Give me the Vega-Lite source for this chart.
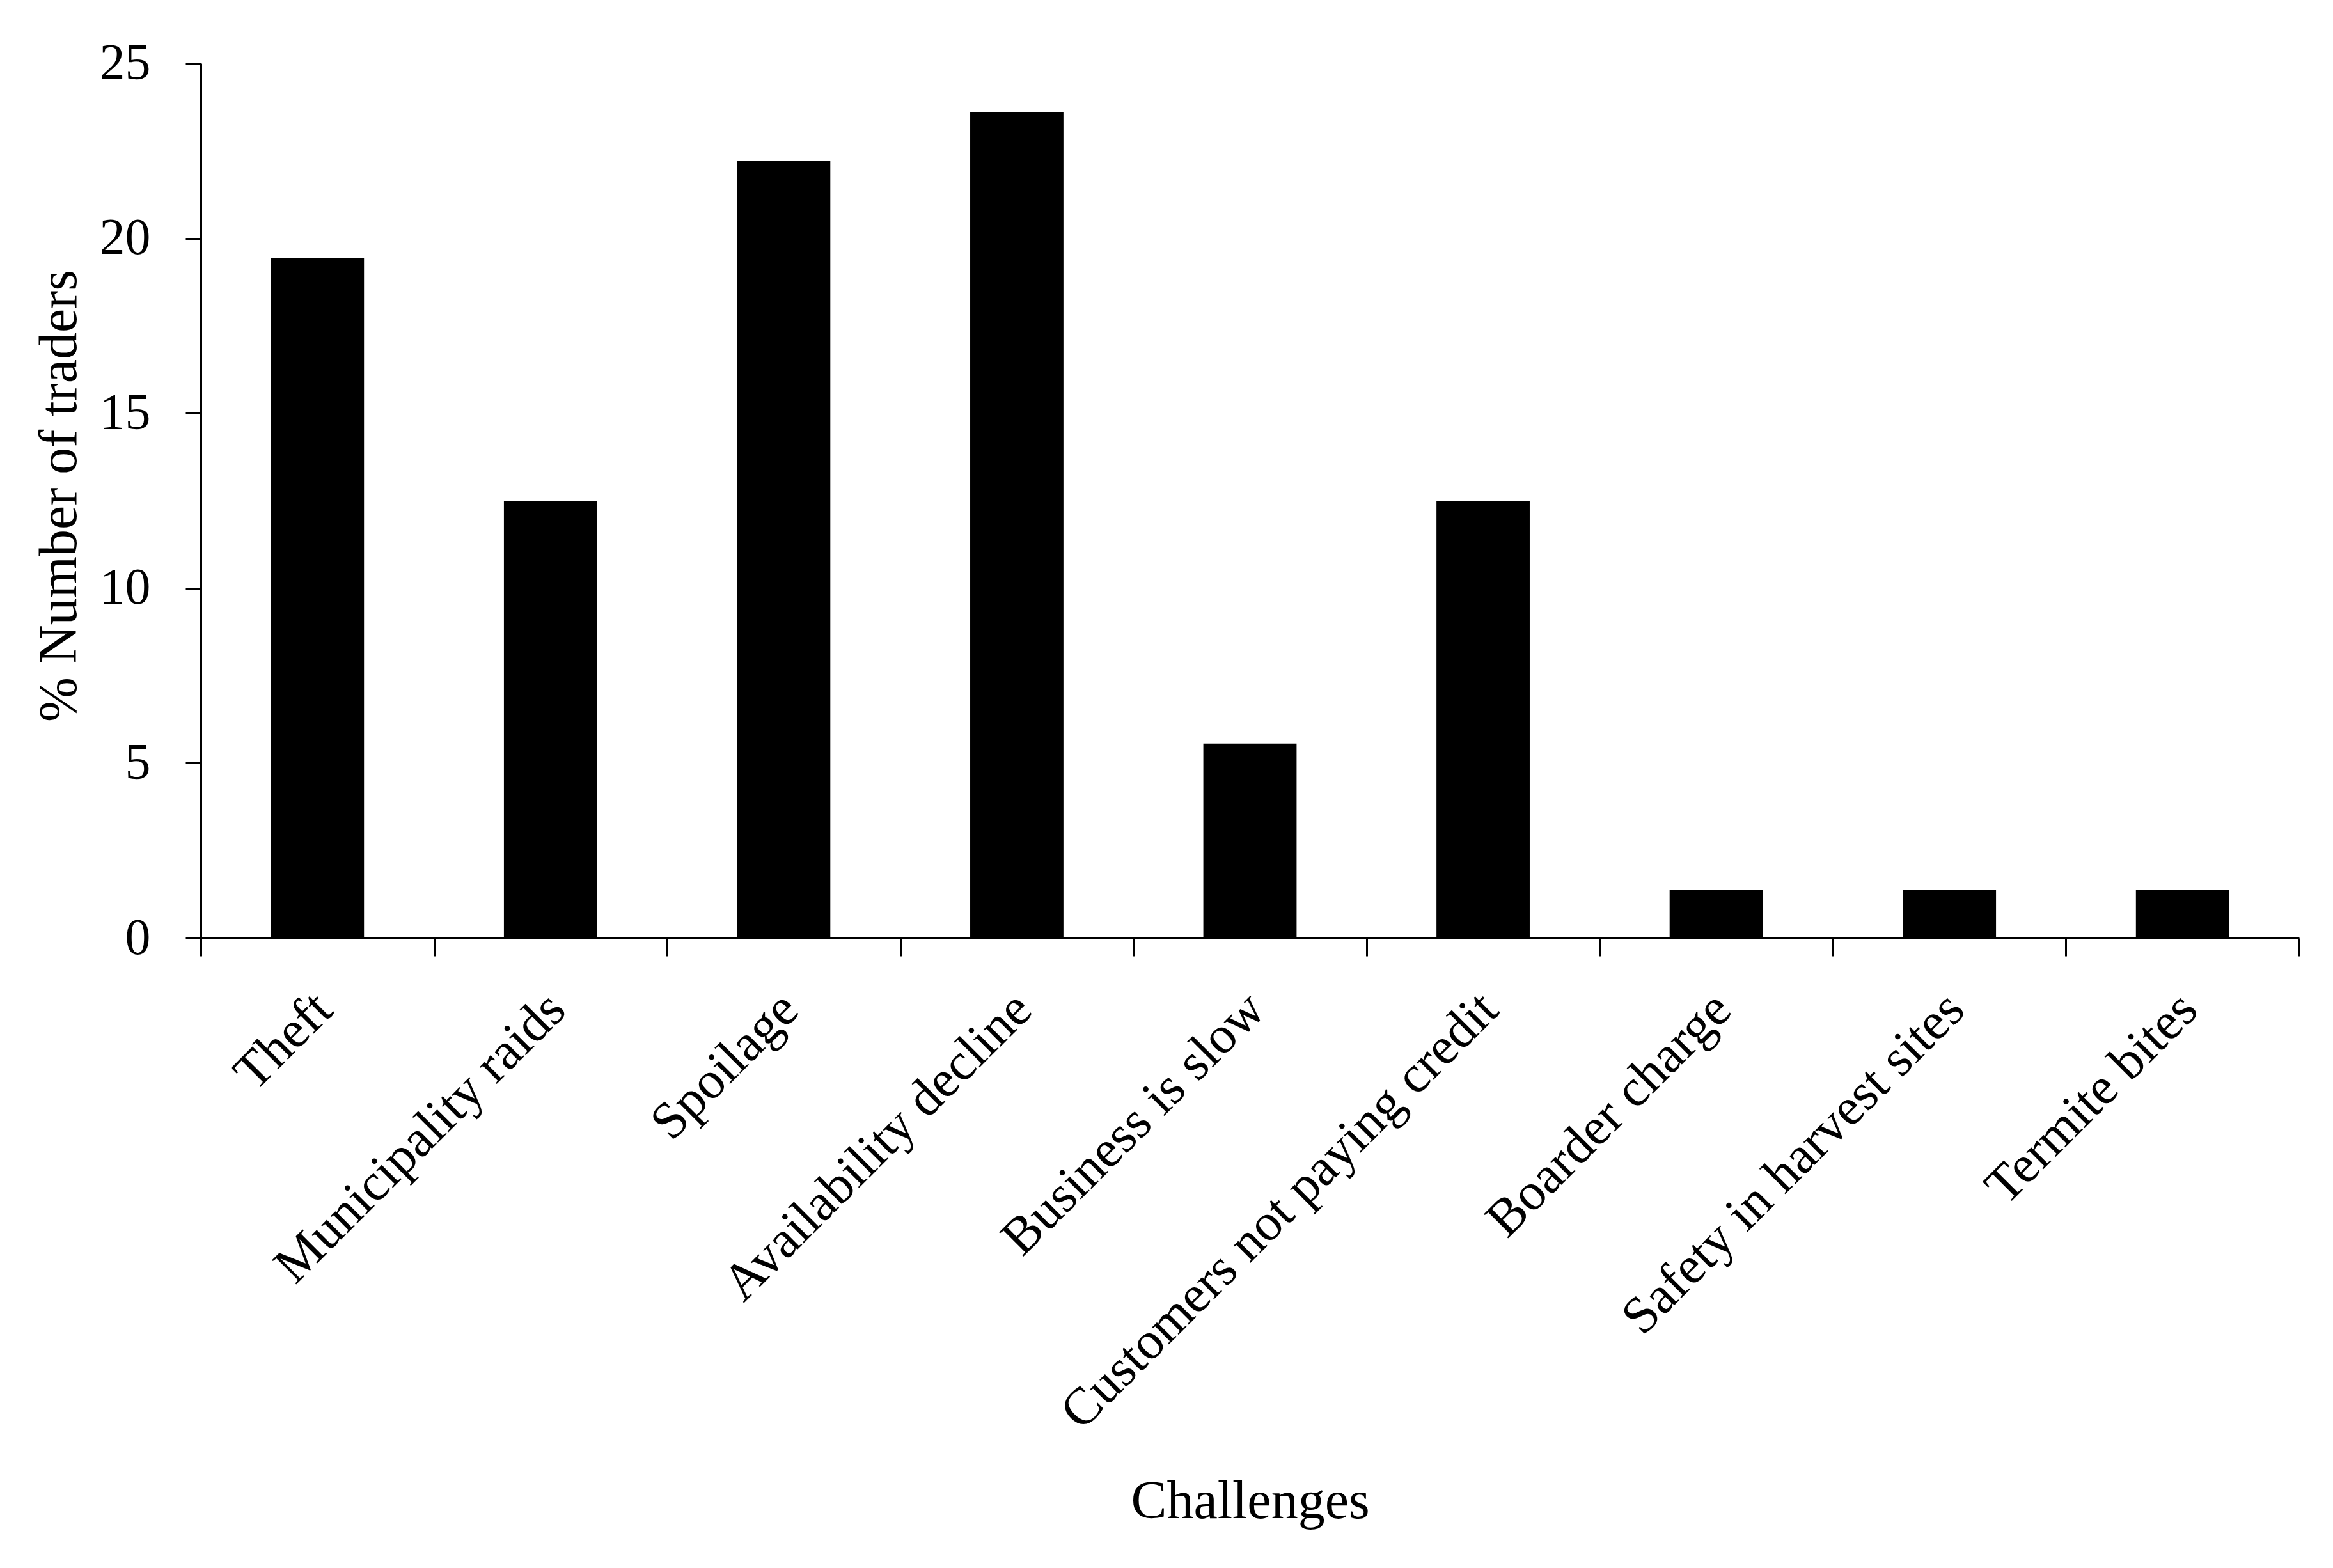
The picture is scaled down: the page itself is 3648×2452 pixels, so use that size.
{
  "$schema": "https://vega.github.io/schema/vega-lite/v6.json",
  "width": 3281,
  "height": 1368,
  "autosize": {"type": "none"},
  "padding": {"left": 314, "top": 99, "right": 53, "bottom": 985},
  "background": "white",
  "config": {
    "view": {"stroke": null},
    "font": "Liberation Serif",
    "axis": {
      "labelFont": "Liberation Serif",
      "titleFont": "Liberation Serif",
      "labelColor": "black",
      "titleColor": "black",
      "domainColor": "black",
      "tickColor": "black",
      "domainWidth": 3,
      "tickWidth": 3,
      "grid": false,
      "titleFontWeight": "normal"
    }
  },
  "data": {
    "values": [
      {"challenge": "Theft", "pct": 19.44},
      {"challenge": "Municipality raids", "pct": 12.5},
      {"challenge": "Spoilage", "pct": 22.22},
      {"challenge": "Availability decline", "pct": 23.61},
      {"challenge": "Business is slow", "pct": 5.56},
      {"challenge": "Customers not paying credit", "pct": 12.5},
      {"challenge": "Boarder charge", "pct": 1.39},
      {"challenge": "Safety in harvest sites", "pct": 1.39},
      {"challenge": "Termite bites", "pct": 1.39}
    ]
  },
  "mark": {"type": "bar", "color": "black", "width": {"band": 0.4}},
  "encoding": {
    "x": {
      "field": "challenge",
      "type": "nominal",
      "sort": null,
      "scale": {"paddingInner": 0, "paddingOuter": 0},
      "axis": {
        "title": "Challenges",
        "titleFontSize": 84,
        "titleY": 906,
        "titleBaseline": "alphabetic",
        "labelFontSize": 82,
        "labelAngle": -45,
        "labelAlign": "right",
        "labelBaseline": "top",
        "labelPadding": 42,
        "labelOffset": -19,
        "tickSize": 28,
        "tickBand": "extent",
        "labelLimit": 0
      }
    },
    "y": {
      "field": "pct",
      "type": "quantitative",
      "scale": {"domain": [0, 25], "nice": false},
      "axis": {
        "title": "% Number of traders",
        "titleFontSize": 84,
        "titleX": -221,
        "titleY": 676,
        "titleBaseline": "middle",
        "titleAngle": -90,
        "values": [0, 5, 10, 15, 20, 25],
        "labelFontSize": 80,
        "labelPadding": 55,
        "tickSize": 24
      }
    }
  }
}
